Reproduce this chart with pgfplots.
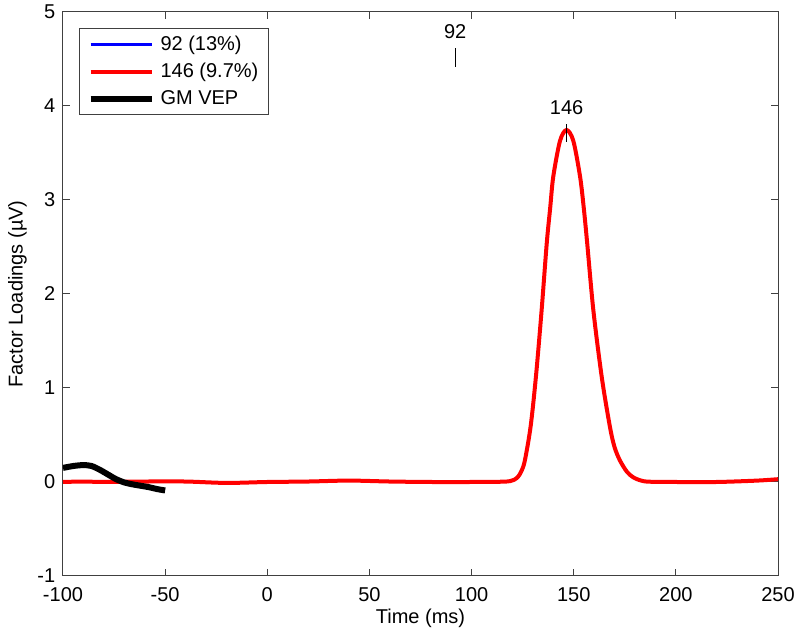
\documentclass[border=0pt]{standalone}
\usepackage{pgfplots}
\pgfplotsset{compat=1.18}
\usepackage{fontspec}
\setmainfont{Liberation Sans}
\definecolor{axgray}{RGB}{64,64,64}
\definecolor{mblue}{RGB}{0,0,255}
\definecolor{mred}{RGB}{255,0,0}
\begin{document}
\fontsize{20}{24}\selectfont
\begin{tikzpicture}
\begin{axis}[
  name=ax,
  scale only axis,
  width=715pt, height=564pt,
  xmin=-100, xmax=250, ymin=-1, ymax=5,
  xtick={-100,-50,...,250},
  ytick={-1,0,...,5},
  tick align=inside,
  tick pos=both,
  major tick length=7pt,
  axis line style={axgray, line width=1pt},
  every tick/.style={axgray, line width=1pt},
  tick label style={font=\fontsize{20}{24}\selectfont, black},
  /pgf/number format/assume math mode=true,
  xticklabel style={yshift=-5pt},
  yticklabel style={xshift=-1pt},
  xlabel={Time (ms)},
  ylabel={Factor Loadings (\textmu V)},
  label style={font=\fontsize{20}{24}\selectfont},
  xlabel style={yshift=7pt},
  ylabel style={yshift=-3pt},
  legend cell align=left,
  legend style={at={(0.0224,0.9716)}, anchor=north west, draw=axgray, line width=1pt,
    font=\fontsize{20}{24}\selectfont, inner xsep=8pt, inner ysep=5pt,
    row sep=6pt, column sep=4pt},
  legend image code/.code={\draw[#1] (0pt,0pt) -- (61pt,0pt);},
]
\addlegendimage{mblue, line width=3pt}
\addlegendentry{92 (13\%)}
\addplot[mred, line width=4pt, smooth, tension=0.5] coordinates {
(-100,0) (-90,0.005) (-80,0) (-60,0.005) (-40,0.005) (-20,-0.01) (0,0) (20,0.005) (40,0.015) (60,0.005) (80,0) (100,0) (115,0.003) (119,0.01) (121,0.025) (122.9,0.06) (124.5,0.12) (126.1,0.23) (128.9,0.59) (131.5,1.12) (134.3,1.83) (136.8,2.54) (138.5,2.92) (140,3.25) (143.3,3.63) (146.5,3.745) (149.8,3.63) (153.1,3.25) (154.9,2.92) (156.6,2.54) (159.6,1.83) (163.7,1.12) (167.7,0.59) (170,0.37) (172.6,0.23) (176,0.11) (179.1,0.05) (183,0.015) (187,0.003) (200,0) (220,0) (240,0.015) (250,0.03)
};
\addlegendentry{146 (9.7\%)}
\addplot[black, line width=6pt, smooth] coordinates {
(-100,0.15) (-95,0.17) (-90,0.18) (-86,0.17) (-82,0.13) (-78,0.08) (-74,0.03) (-70,-0.005) (-66,-0.025) (-62,-0.04) (-58,-0.055) (-54,-0.075) (-50,-0.09)
};
\addlegendentry{GM VEP}
\draw[black, line width=1pt] (axis cs:92,4.42) -- (axis cs:92,4.62);
\node[font=\fontsize{20}{24}\selectfont] at (axis cs:92,4.79) {92};
\draw[black, line width=1pt] (axis cs:146.5,3.62) -- (axis cs:146.5,3.81);
\node[font=\fontsize{20}{24}\selectfont] at (axis cs:146.5,3.98) {146};
\end{axis}
\pgfresetboundingbox
\path ([shift={(-63pt,-59pt)}]ax.south west) rectangle ([shift={(22pt,12pt)}]ax.north east);
\end{tikzpicture}
\end{document}
